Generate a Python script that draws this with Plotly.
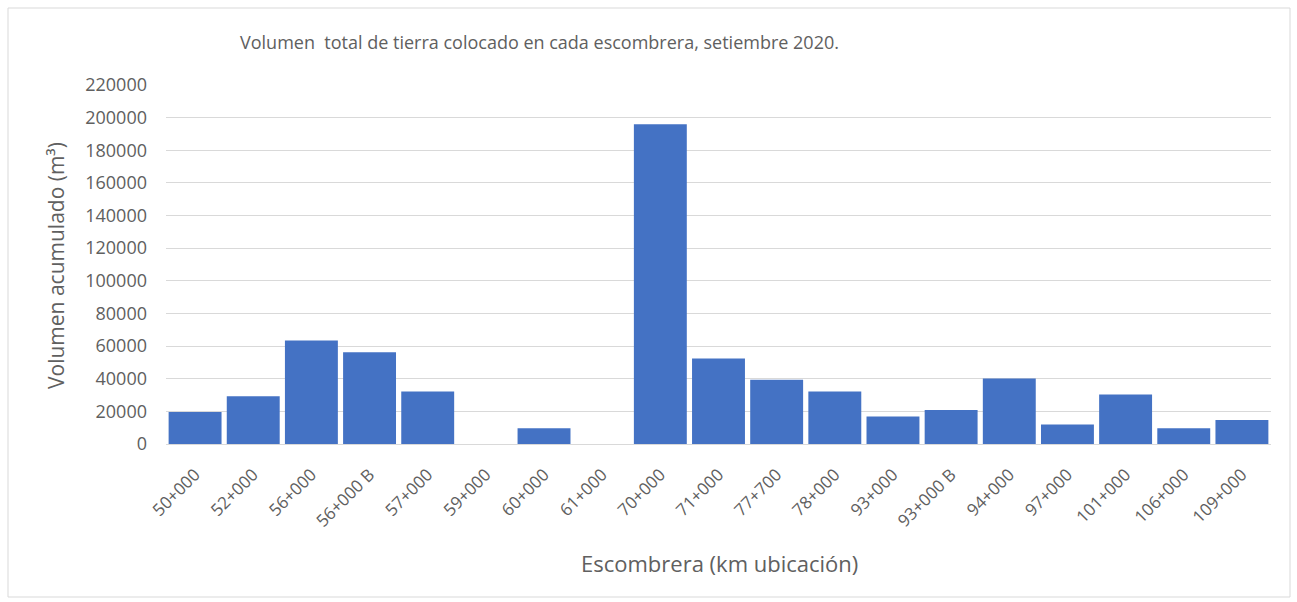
import plotly.graph_objects as go

categories = ["50+000", "52+000", "56+000", "56+000 B", "57+000", "59+000", "60+000",
              "61+000", "70+000", "71+000", "77+700", "78+000", "93+000", "93+000 B",
              "94+000", "97+000", "101+000", "106+000", "109+000"]
volumes = [19600, 29200, 63400, 56300, 32200, 0, 9600,
           0, 196000, 52400, 39400, 32200, 16900, 20900,
           40200, 12000, 30400, 9600, 14700]
y_ticks = list(range(0, 220001, 20000))

title_text = "Volumen  total de tierra colocado en cada escombrera, setiembre 2020."
x_title = "Escombrera (km ubicación)"
y_title = "Volumen acumulado (m³)"

FONT = "Open Sans"
GRAY = "#606060"

W, H = 1297, 602
L, R, T, B = 166, 26, 85, 158
PW, PH = W - L - R, H - T - B


def px(x):
    return (x - L) / PW


def py(y):
    return 1 - (y - T) / PH


fig = go.Figure()
fig.add_trace(go.Bar(x=categories, y=volumes, marker=dict(color="#4472C4", line=dict(width=0))))

fig.update_layout(
    width=W, height=H,
    margin=dict(l=L, r=R, t=T, b=B),
    paper_bgcolor="white", plot_bgcolor="white",
    bargap=0.09,
    showlegend=False,
    font=dict(family=FONT, color=GRAY, size=15),
    xaxis=dict(
        tickangle=-45, tickfont=dict(size=17, color=GRAY, family=FONT),
        showgrid=False, showline=True, linecolor="#D9D9D9", linewidth=1,
        ticks="", automargin=False, ticklabelstandoff=13,
    ),
    yaxis=dict(
        range=[0, 220000], tickvals=y_ticks, ticktext=[str(v) for v in y_ticks],
        tickfont=dict(size=18, color=GRAY, family=FONT),
        showgrid=True, gridcolor="#D9D9D9", gridwidth=1,
        zeroline=False, showline=False, ticks="", ticklabelstandoff=18,
        automargin=False,
    ),
)

fig.add_annotation(text=title_text, x=px(539), y=py(42), xref="paper", yref="paper",
                   showarrow=False, xanchor="center", yanchor="middle",
                   font=dict(size=18, color=GRAY, family=FONT))
fig.add_annotation(text=x_title, x=px(719), y=py(563), xref="paper", yref="paper",
                   showarrow=False, xanchor="center", yanchor="middle",
                   font=dict(size=22, color=GRAY, family=FONT))
fig.add_annotation(text=y_title, x=px(56), y=py(266), xref="paper", yref="paper",
                   showarrow=False, xanchor="center", yanchor="middle", textangle=-90,
                   font=dict(size=21, color=GRAY, family=FONT))

# chart border
fig.add_shape(type="rect", xref="paper", yref="paper",
              x0=px(8), x1=px(1290), y0=py(597), y1=py(8),
              line=dict(color="#D9D9D9", width=1))

fig.write_html("out.html", config={"displayModeBar": False},
               post_script="document.body.style.margin='0px';")
